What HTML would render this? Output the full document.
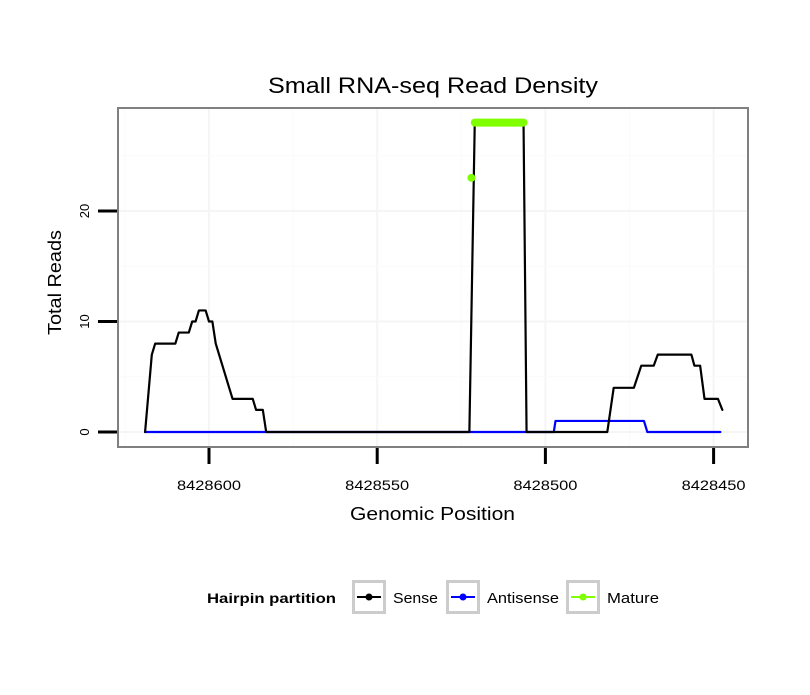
<!DOCTYPE html>
<html><head><meta charset="utf-8"><style>
body{margin:0;background:#fff}
svg text{font-family:"Liberation Sans",sans-serif}
</style></head><body>
<svg id="c" width="810" height="690" xmlns="http://www.w3.org/2000/svg">
<rect width="810" height="690" fill="#fff"/>
<text x="268" y="93" font-size="22" textLength="330" lengthAdjust="spacingAndGlyphs">Small RNA-seq Read Density</text>
<g id="grid"></g>
<g id="marks"></g>
<rect x="118" y="108" width="630" height="339" fill="none" stroke="#808080" stroke-width="2"/>
<g id="axes"></g>
<text x="350" y="520" font-size="18" textLength="165" lengthAdjust="spacingAndGlyphs">Genomic Position</text>
<text transform="translate(61,335) rotate(-90)" font-size="18" textLength="105" lengthAdjust="spacingAndGlyphs">Total Reads</text>
<g>
<text x="207" y="603" font-size="14" font-weight="bold" textLength="129" lengthAdjust="spacingAndGlyphs">Hairpin partition</text>
<g>
<rect x="353.5" y="581.5" width="31" height="31" fill="#fff" stroke="#ccc" stroke-width="3"/>
<line x1="357" y1="597" x2="381" y2="597" stroke="#000" stroke-width="2"/><circle cx="369" cy="597" r="3.5" fill="#000"/>
<text x="393" y="603" font-size="15" textLength="45" lengthAdjust="spacingAndGlyphs">Sense</text></g>
<g>
<rect x="447.5" y="581.5" width="31" height="31" fill="#fff" stroke="#ccc" stroke-width="3"/>
<line x1="451" y1="597" x2="475" y2="597" stroke="#00f" stroke-width="2"/><circle cx="463" cy="597" r="3.5" fill="#00f"/>
<text x="487" y="603" font-size="15" textLength="72" lengthAdjust="spacingAndGlyphs">Antisense</text></g>
<g>
<rect x="567.5" y="581.5" width="31" height="31" fill="#fff" stroke="#ccc" stroke-width="3"/>
<line x1="571" y1="597" x2="595" y2="597" stroke="#7fff00" stroke-width="2"/><circle cx="583" cy="597" r="3.5" fill="#7fff00"/>
<text x="607" y="603" font-size="15" textLength="52" lengthAdjust="spacingAndGlyphs">Mature</text></g>
</g>
</svg>
<script>
const xTicks=[8428600,8428550,8428500,8428450];
const yTicks=[0,10,20];
const senseX=[8428619,8428617,8428616,8428610,8428609,8428606,8428605,8428604,8428603,8428601,8428600,8428599,8428598,8428596,8428594,8428593,8428587,8428586,8428584,8428583,8428522.6,8428521,8428506.5,8428505.6,8428481.6,8428479.7,8428473.7,8428471.5,8428467.8,8428466.6,8428456.6,8428455.7,8428454,8428452.7,8428448.7,8428447.4];
const senseY=[0,7,8,8,9,9,10,10,11,11,10,10,8,6,4,3,3,2,2,0,0,28,28,0,0,4,4,6,6,7,7,6,6,3,3,2];
const antiX=[8428619,8428497.5,8428497,8428470.7,8428469.7,8428448];
const antiY=[0,0,1,1,0,0];
const matureX=[8428521,8428506.5];
const matureY=[28,28];
const matureDotX=[8428522];
const matureDotY=[23];
const X=v=>209+(8428600-v)*3.364;
const Y=v=>432-v*11.05;
const NS="http://www.w3.org/2000/svg";
function mk(p,t,a){const e=document.createElementNS(NS,t);for(const k in a)e.setAttribute(k,a[k]);p.appendChild(e);return e;}
const grid=document.getElementById('grid'),marks=document.getElementById('marks'),axes=document.getElementById('axes');
mk(grid,'rect',{x:118,y:108,width:630,height:339,fill:'#fff'});
for(let i=0;i<xTicks.length;i++){
 const gx=X(xTicks[i]);
 const g=mk(grid,'line',{x1:gx,x2:gx,y1:108,y2:447,stroke:'#f5f5f5','stroke-width':2});
 
 
 const mx=X(xTicks[i]-25);
 if(mx<748) mk(grid,'line',{x1:mx,x2:mx,y1:108,y2:447,stroke:'#fafafa','stroke-width':1});
 if(i==0){const m0=X(xTicks[0]+25);mk(grid,'line',{x1:m0,x2:m0,y1:108,y2:447,stroke:'#fafafa','stroke-width':1});}
 const t=mk(axes,'line',{x1:gx,x2:gx,y1:448,y2:464,stroke:'#000','stroke-width':3});
 
 
 const l=mk(axes,'text',{x:gx,y:490,'font-size':14,'text-anchor':'middle',textLength:64,lengthAdjust:'spacingAndGlyphs'});
 l.textContent=xTicks[i];
 
 
}
for(let i=0;i<yTicks.length;i++){
 const gy=Y(yTicks[i]);
 mk(grid,'line',{x1:118,x2:748,y1:gy,y2:gy,stroke:'#f5f5f5','stroke-width':2});
 const my=Y(yTicks[i]+5);
 if(my>108) mk(grid,'line',{x1:118,x2:748,y1:my,y2:my,stroke:'#fafafa','stroke-width':1});
 const t=mk(axes,'line',{x1:98,x2:117,y1:gy,y2:gy,stroke:'#000','stroke-width':3});
 
 
 const l=mk(axes,'text',{transform:`translate(89,${gy}) rotate(-90)`,'font-size':13,'text-anchor':'middle'});
 l.textContent=yTicks[i];
 
 
}
function line(xs,ys,col,w,name){
 const p=mk(marks,'polyline',{points:xs.map((v,i)=>X(v)+','+Y(ys[i])).join(' '),fill:'none',stroke:col,'stroke-width':w,'stroke-linejoin':'round','stroke-linecap':'round'});
 
 
}
line(antiX,antiY,'#00f',2.2,'antisense-line');
line(senseX,senseY,'#000',2.2,'sense-line');
line(matureX,matureY,'#7fff00',8,'mature-line');
for(let i=0;i<matureDotX.length;i++){
 const c=mk(marks,'circle',{cx:X(matureDotX[i]),cy:Y(matureDotY[i]),r:4,fill:'#7fff00'});
 
 
}
</script>
</body></html>
